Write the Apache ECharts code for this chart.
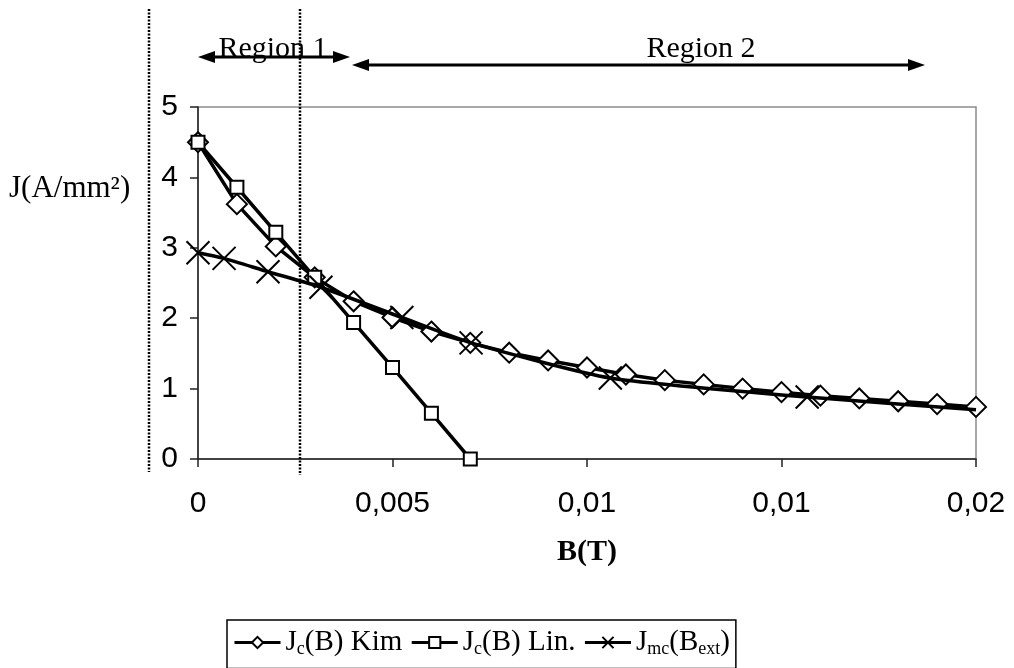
<!DOCTYPE html>
<html>
<head>
<meta charset="utf-8">
<script src="https://cdn.jsdelivr.net/npm/echarts@6/dist/echarts.min.js"></script>
<style>
html,body{margin:0;padding:0;background:#fff;}
#c{width:1014px;height:668px;}
</style>
</head>
<body>
<div id="c"></div>
<script>
// ---- data ----
const seriesNames = ['Jc(B) Kim', 'Jc(B) Lin.', 'Jmc(Bext)'];
const xTickLabels = ['0', '0,005', '0,01', '0,01', '0,02'];
const yTickLabels = ['0', '1', '2', '3', '4', '5'];

const bKim = [0, 0.001, 0.002, 0.003, 0.004, 0.005, 0.006, 0.007, 0.008, 0.009, 0.010,
              0.011, 0.012, 0.013, 0.014, 0.015, 0.016, 0.017, 0.018, 0.019, 0.020];
const jKim = [4.5, 3.62, 3.02, 2.58, 2.24, 2.01, 1.81, 1.65, 1.51, 1.40, 1.30,
              1.20, 1.12, 1.06, 1.00, 0.95, 0.90, 0.86, 0.82, 0.78, 0.74];

const bLin = [0, 0.001, 0.002, 0.003, 0.004, 0.005, 0.006, 0.007];
const jLin = [4.5, 3.86, 3.22, 2.58, 1.94, 1.30, 0.65, 0];

const bMc = [0, 0.00067, 0.0018, 0.00316, 0.00524, 0.00702, 0.0106, 0.01566, 0.02];
const jMc = [2.93, 2.85, 2.66, 2.44, 2.01, 1.65, 1.15, 0.88, 0.70];

// ---- chart ----
const serif = '"Liberation Serif","Times New Roman",serif';
const sans = '"Liberation Sans",Arial,sans-serif';
const crossPath = 'path://M0,0L10,10M10,0L0,10';

function pairs(xs, ys) { return xs.map((x, i) => [x, ys[i]]); }

const chart = echarts.init(document.getElementById('c'), null, {renderer: 'canvas'});

const legendRich = {
  n: {fontFamily: serif, fontSize: 29, color: '#000'},
  s: {fontFamily: serif, fontSize: 18, color: '#000', padding: [14, 0, 0, 0]}
};
const legendFmt = {
  'Jc(B) Kim': '{n|J}{s|c}{n|(B) Kim}',
  'Jc(B) Lin.': '{n|J}{s|c}{n|(B) Lin.}',
  'Jmc(Bext)': '{n|J}{s|mc}{n|(B}{s|ext}{n|)}'
};

const option = {
  animation: false,
  backgroundColor: '#fff',
  grid: {
    left: 198, right: 38, top: 107, bottom: 209,
    show: true, borderColor: '#8c8c8c', borderWidth: 1.5, backgroundColor: 'transparent'
  },
  xAxis: {
    type: 'value', min: 0, max: 0.02, interval: 0.005,
    splitLine: {show: false},
    axisLine: {show: true, onZero: false, lineStyle: {color: '#222', width: 1.5}},
    axisTick: {show: true, inside: false, length: 8, lineStyle: {color: '#222', width: 1.5}},
    axisLabel: {
      margin: 30, fontFamily: sans, fontSize: 30, color: '#000',
      formatter: (v) => xTickLabels[Math.round(v / 0.005)]
    }
  },
  yAxis: {
    type: 'value', min: 0, max: 5, interval: 1,
    splitLine: {show: false},
    axisLine: {show: true, onZero: false, lineStyle: {color: '#222', width: 1.5}},
    axisTick: {show: true, inside: false, length: 8, lineStyle: {color: '#222', width: 1.5}},
    axisLabel: {
      margin: 20, fontFamily: sans, fontSize: 30, color: '#000',
      formatter: (v) => yTickLabels[Math.round(v)]
    }
  },
  legend: {
    left: 227, top: 620,
    orient: 'horizontal',
    data: seriesNames,
    itemWidth: 46, itemHeight: 14, itemGap: 8,
    padding: [8, 6, 10, 6],
    borderColor: '#000', borderWidth: 1.5, backgroundColor: '#fff',
    lineStyle: {width: 3, color: '#000'},
    formatter: (name) => legendFmt[name],
    textStyle: {fontFamily: serif, fontSize: 29, color: '#000', rich: legendRich}
  },
  series: [
    {
      name: seriesNames[0], type: 'line',
      data: pairs(bKim, jKim),
      symbol: 'diamond', symbolSize: 20,
      itemStyle: {color: '#fff', borderColor: '#000', borderWidth: 2},
      lineStyle: {color: '#000', width: 3.5},
      z: 2
    },
    {
      name: seriesNames[1], type: 'line',
      data: pairs(bLin, jLin),
      symbol: 'rect', symbolSize: 13,
      itemStyle: {color: '#fff', borderColor: '#000', borderWidth: 2},
      lineStyle: {color: '#000', width: 3.5},
      z: 3
    },
    {
      name: seriesNames[2], type: 'line',
      data: pairs(bMc, jMc).map((p, i, arr) => i === arr.length - 1 ? {value: p, symbol: 'none'} : p),
      symbol: crossPath, symbolSize: 23,
      itemStyle: {color: 'none', borderColor: '#000', borderWidth: 2},
      lineStyle: {color: '#000', width: 3.5},
      smooth: 0.2,
      z: 4
    }
  ],
  graphic: [
    // dotted vertical lines
    {type: 'line', shape: {x1: 149, y1: 9, x2: 149, y2: 472},
     style: {stroke: '#000', lineWidth: 2.5, lineDash: [2, 1.5]}, z: 10},
    {type: 'line', shape: {x1: 300, y1: 9, x2: 300, y2: 475},
     style: {stroke: '#000', lineWidth: 2.5, lineDash: [2, 1.5]}, z: 10},
    // Region 1 arrow
    {type: 'line', shape: {x1: 206, y1: 57, x2: 342, y2: 57}, style: {stroke: '#000', lineWidth: 3}, z: 10},
    {type: 'polygon', shape: {points: [[198, 57], [215, 51], [215, 63]]}, style: {fill: '#000'}, z: 10},
    {type: 'polygon', shape: {points: [[350, 57], [333, 51], [333, 63]]}, style: {fill: '#000'}, z: 10},
    // Region 2 arrow
    {type: 'line', shape: {x1: 360, y1: 65, x2: 917, y2: 65}, style: {stroke: '#000', lineWidth: 3}, z: 10},
    {type: 'polygon', shape: {points: [[352, 65], [369, 59], [369, 71]]}, style: {fill: '#000'}, z: 10},
    {type: 'polygon', shape: {points: [[925, 65], [908, 59], [908, 71]]}, style: {fill: '#000'}, z: 10},
    // texts
    {type: 'text', x: 273, y: 64, style: {text: 'Region 1', font: '30px ' + serif, fill: '#000', textAlign: 'center', textVerticalAlign: 'bottom'}, z: 9},
    {type: 'text', x: 701, y: 64, style: {text: 'Region 2', font: '30px ' + serif, fill: '#000', textAlign: 'center', textVerticalAlign: 'bottom'}, z: 9},
    {type: 'text', x: 9, y: 189, style: {text: 'J(A/mm²)', font: '31px ' + serif, fill: '#000', textAlign: 'left', textVerticalAlign: 'middle'}, z: 9},
    {type: 'text', x: 587, y: 552, style: {text: 'B(T)', font: 'bold 30px ' + serif, fill: '#000', textAlign: 'center', textVerticalAlign: 'middle'}, z: 9}
  ]
};
chart.setOption(option);
</script>
</body>
</html>
